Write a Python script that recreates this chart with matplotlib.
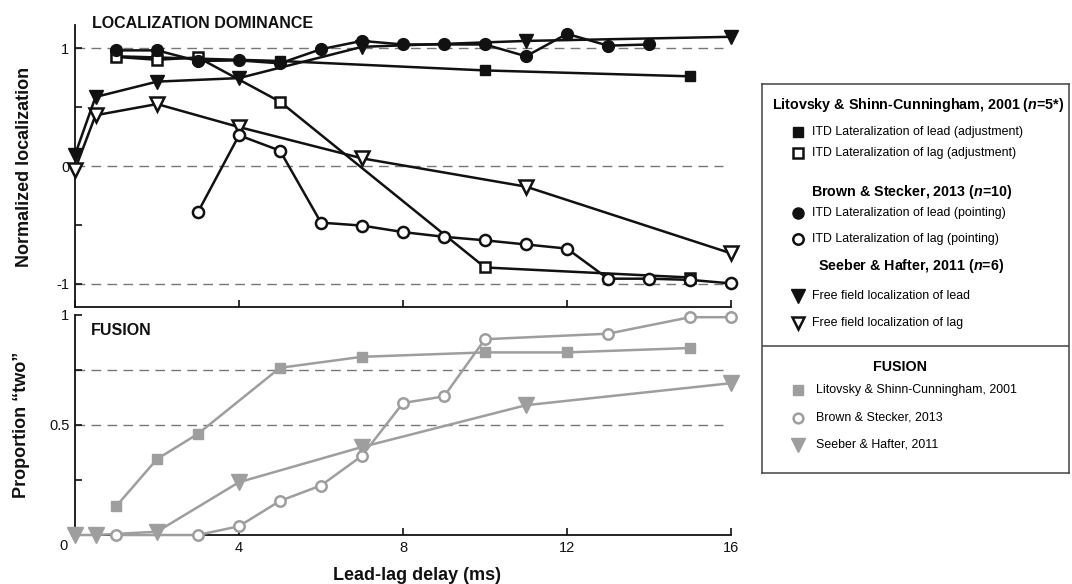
import matplotlib
matplotlib.use("Agg")
import matplotlib.pyplot as plt
from matplotlib.transforms import ScaledTranslation

plt.rcParams['font.family'] = ['Liberation Sans', 'DejaVu Sans']
plt.rcParams['mathtext.fontset'] = 'custom'
plt.rcParams['mathtext.it'] = 'Liberation Sans:italic:bold'
plt.rcParams['mathtext.rm'] = 'Liberation Sans:bold'

# --- localization dominance (top panel) ---
lit_x = [1, 2, 3, 5, 10, 15]
lit_lead = [0.93, 0.92, 0.91, 0.89, 0.81, 0.76]
lit_lag = [0.925, 0.90, 0.92, 0.545, -0.86, -0.945]

brown_lead_x = [1, 2, 3, 4, 5, 6, 7, 8, 9, 10, 11, 12, 13, 14]
brown_lead = [0.98, 0.98, 0.89, 0.895, 0.87, 0.99, 1.06, 1.03, 1.03, 1.03, 0.93, 1.12, 1.02, 1.03]
brown_lag_x = [3, 4, 5, 6, 7, 8, 9, 10, 11, 12, 13, 14, 15, 16]
brown_lag = [-0.39, 0.26, 0.13, -0.48, -0.505, -0.56, -0.60, -0.63, -0.665, -0.70,
             -0.955, -0.955, -0.965, -0.995]

seeber_x = [0, 0.5, 2, 4, 7, 11, 16]
seeber_lead = [0.095, 0.585, 0.715, 0.745, 1.01, 1.06, 1.095]
seeber_lag = [-0.03, 0.43, 0.525, 0.33, 0.065, -0.175, -0.74]

# --- fusion (bottom panel) ---
fus_lit_x = [1, 2, 3, 5, 7, 10, 12, 15]
fus_lit = [0.13, 0.345, 0.46, 0.76, 0.81, 0.83, 0.83, 0.85]
fus_brown_x = [1, 3, 4, 5, 6, 7, 8, 9, 10, 13, 15, 16]
fus_brown = [0.0, 0.0, 0.04, 0.155, 0.225, 0.36, 0.60, 0.63, 0.89, 0.915, 0.99, 0.99]
fus_seeber_x = [0, 0.5, 2, 4, 7, 11, 16]
fus_seeber = [0.0, 0.0, 0.015, 0.24, 0.40, 0.59, 0.69]

top_yticks = [-1, -0.5, 0, 0.5, 1]
top_ylabels = ['-1', '', '0', '', '1']
bot_yticks = [0, 0.25, 0.5, 0.75, 1]
bot_ylabels = ['0', '', '0.5', '', '1']
xticks = [0, 4, 8, 12, 16]
xlabels = ['', '4', '8', '12', '16']

BLACK = '#111111'
GRAY = '#9e9e9e'
DASH = '#777777'

W, H = 1072, 584
fig = plt.figure(figsize=(W / 100, H / 100), dpi=100)


def px_rect(x0, y0, x1, y1):
    return [x0 / W, 1 - y1 / H, (x1 - x0) / W, (y1 - y0) / H]


def style_axes(ax):
    for s in ['top', 'right']:
        ax.spines[s].set_visible(False)
    for s in ['left', 'bottom']:
        ax.spines[s].set_linewidth(1.3)
        ax.spines[s].set_color(BLACK)
    ax.tick_params(direction='in', length=5, width=1.2, labelsize=10.5,
                   colors=BLACK, pad=4)


ax1 = fig.add_axes(px_rect(75, 25, 731, 307))
ax1.set_xlim(0, 16)
ax1.set_ylim(-1.195, 1.195)
style_axes(ax1)
ax1.set_xticks(xticks)
ax1.set_xticklabels([])
ax1.set_yticks(top_yticks)
ax1.set_yticklabels(top_ylabels)
ax1.hlines([1, 0, -1], 0, 15.8, colors=DASH, linewidth=1, linestyles=(0, (7, 4.5)), zorder=1)

lw = 1.8
ax1.plot(seeber_x, seeber_lag, '-v', color=BLACK, lw=lw, ms=9.5, mfc='white', mec=BLACK,
         mew=1.8, clip_on=False, zorder=3)
ax1.plot(seeber_x, seeber_lead, '-v', color=BLACK, lw=lw, ms=10.5, mfc=BLACK, mec=BLACK,
         clip_on=False, zorder=3)
ax1.plot(lit_x, lit_lead, '-s', color=BLACK, lw=lw, ms=7, mfc=BLACK, mec=BLACK,
         clip_on=False, zorder=4)
ax1.plot(lit_x, lit_lag, '-s', color=BLACK, lw=lw, ms=6.5, mfc='white', mec=BLACK,
         mew=1.8, clip_on=False, zorder=4)
ax1.plot(brown_lag_x, brown_lag, '-o', color=BLACK, lw=lw, ms=8, mfc='white', mec=BLACK,
         mew=1.8, clip_on=False, zorder=5)
ax1.plot(brown_lead_x, brown_lead, '-o', color=BLACK, lw=lw, ms=8.5, mfc=BLACK, mec=BLACK,
         clip_on=False, zorder=5)
ax1.text(17 / 656 * 16, 1.21, 'LOCALIZATION DOMINANCE', fontsize=11.5,
         fontweight='bold', va='center', ha='left', color=BLACK)

ax2 = fig.add_axes(px_rect(75, 315, 731, 535))
ax2.set_xlim(0, 16)
ax2.set_ylim(0, 1)
style_axes(ax2)
ax2.set_xticks(xticks)
ax2.set_xticklabels(xlabels)
ax2.set_yticks(bot_yticks)
ax2.set_yticklabels(bot_ylabels)
# the "0" sits a little lower, at the corner
zero_lbl = ax2.get_yticklabels()[0]
zero_lbl.set_transform(zero_lbl.get_transform()
                       + ScaledTranslation(-0.02, -0.09, fig.dpi_scale_trans))
ax2.hlines([0.75, 0.5], 0, 15.8, colors=DASH, linewidth=1, linestyles=(0, (7, 4.5)), zorder=1)

ax2.plot(fus_seeber_x, fus_seeber, '-v', color=GRAY, lw=lw, ms=11, mfc=GRAY, mec=GRAY,
         clip_on=False, zorder=3)
ax2.plot(fus_lit_x, fus_lit, '-s', color=GRAY, lw=lw, ms=7.5, mfc=GRAY, mec=GRAY,
         clip_on=False, zorder=4)
ax2.plot(fus_brown_x, fus_brown, '-o', color=GRAY, lw=lw, ms=7.5, mfc='white', mec=GRAY,
         mew=1.8, clip_on=False, zorder=5)
ax2.text(16 / 656 * 16, 0.93, 'FUSION', fontsize=11.5, fontweight='bold', va='center',
         ha='left', color=BLACK)

fig.text(25 / W, 1 - 167 / H, 'Normalized localization', rotation=90, fontsize=13,
         fontweight='bold', ha='center', va='center', color=BLACK)
fig.text(22 / W, 1 - 425 / H, 'Proportion \u201ctwo\u201d', rotation=90, fontsize=13,
         fontweight='bold', ha='center', va='center', color=BLACK)
fig.text(417 / W, 1 - 575 / H, 'Lead-lag delay (ms)', fontsize=13, fontweight='bold',
         ha='center', va='center', color=BLACK)

# --- legend box, drawn in pixel coordinates ---
lx0, ly0, lx1, ly1 = 762, 84, 1069, 473
lg = fig.add_axes(px_rect(lx0, ly0, lx1, ly1))
lg.set_xlim(lx0, lx1)
lg.set_ylim(ly1, ly0)
lg.set_xticks([])
lg.set_yticks([])
for s in lg.spines.values():
    s.set_linewidth(1.1)
    s.set_color('#444444')
lg.axhline(346, color='#444444', lw=1.1)

hx = 918
mx, tx = 797.7, 811.7
hfs, ifs = 10.3, 8.95
lg.text(hx, 105, 'Litovsky & Shinn-Cunningham, 2001 ($\\mathit{n}$=5*)', fontsize=hfs,
        fontweight='bold', ha='center', va='center')
lg.plot([mx], [131.7], 's', ms=7, mfc=BLACK, mec=BLACK)
lg.text(tx, 131.7, 'ITD Lateralization of lead (adjustment)', fontsize=ifs, va='center')
lg.plot([mx], [153.3], 's', ms=6.5, mfc='white', mec=BLACK, mew=1.8)
lg.text(tx, 153.3, 'ITD Lateralization of lag (adjustment)', fontsize=ifs, va='center')

lg.text(912, 191.7, 'Brown & Stecker, 2013 ($\\mathit{n}$=10)', fontsize=hfs,
        fontweight='bold', ha='center', va='center')
lg.plot([mx], [212.7], 'o', ms=8, mfc=BLACK, mec=BLACK)
lg.text(tx, 212.7, 'ITD Lateralization of lead (pointing)', fontsize=ifs, va='center')
lg.plot([mx], [239.3], 'o', ms=7.5, mfc='white', mec=BLACK, mew=1.8)
lg.text(tx, 239.3, 'ITD Lateralization of lag (pointing)', fontsize=ifs, va='center')

lg.text(911, 266, 'Seeber & Hafter, 2011 ($\\mathit{n}$=6)', fontsize=hfs,
        fontweight='bold', ha='center', va='center')
lg.plot([mx], [296], 'v', ms=10, mfc=BLACK, mec=BLACK)
lg.text(tx, 296, 'Free field localization of lead', fontsize=ifs, va='center')
lg.plot([mx], [323.3], 'v', ms=9, mfc='white', mec=BLACK, mew=1.8)
lg.text(tx, 323.3, 'Free field localization of lag', fontsize=ifs, va='center')

lg.text(900, 367.3, 'FUSION', fontsize=hfs, fontweight='bold', ha='center', va='center')
lg.plot([mx], [390], 's', ms=7, mfc=GRAY, mec=GRAY)
lg.text(816, 390, 'Litovsky & Shinn-Cunningham, 2001', fontsize=ifs, va='center')
lg.plot([mx], [417.7], 'o', ms=7, mfc='white', mec=GRAY, mew=1.8)
lg.text(816, 417.7, 'Brown & Stecker, 2013', fontsize=ifs, va='center')
lg.plot([mx], [445], 'v', ms=10, mfc=GRAY, mec=GRAY)
lg.text(816, 445, 'Seeber & Hafter, 2011', fontsize=ifs, va='center')

fig.savefig('out.png', dpi=100)
